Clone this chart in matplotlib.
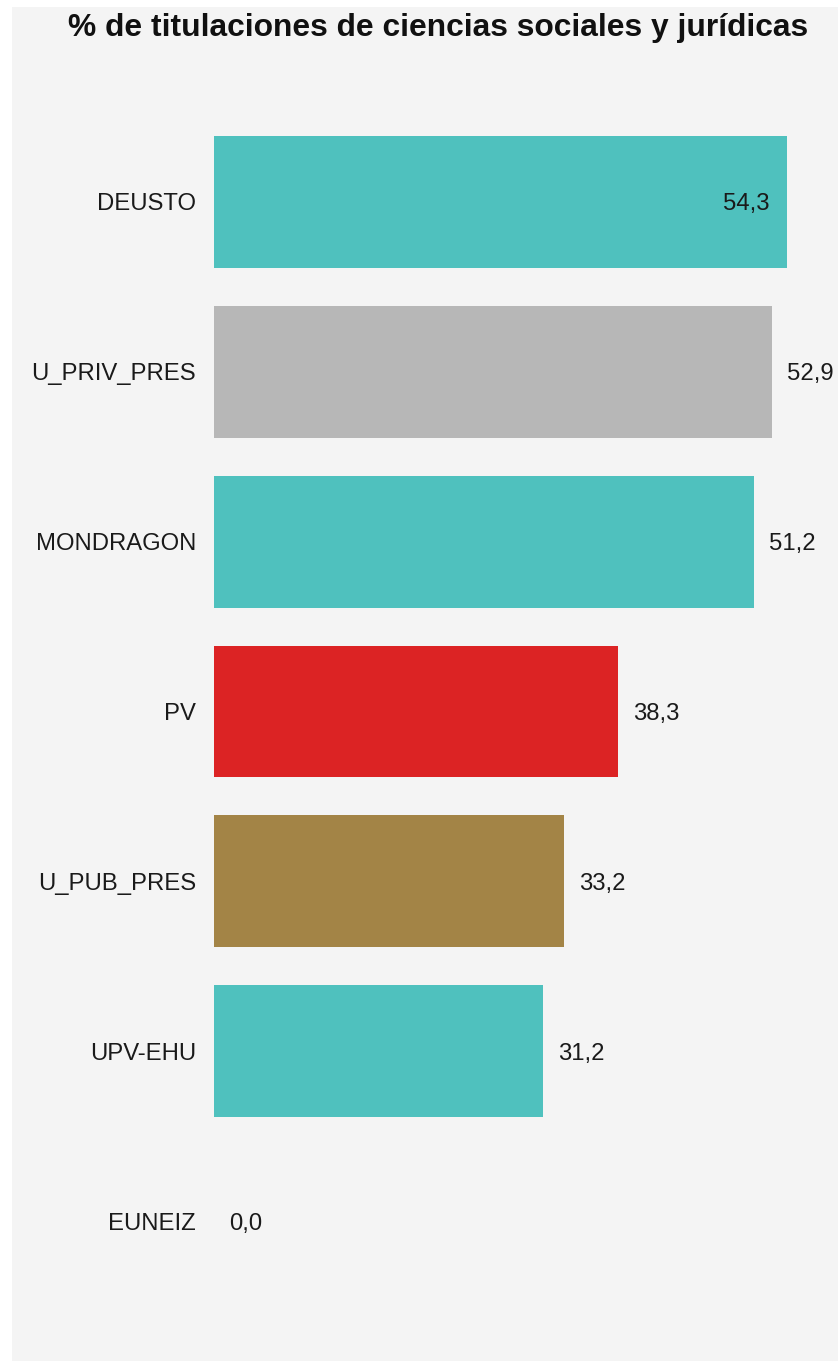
import matplotlib.pyplot as plt
from matplotlib.patches import Rectangle

plt.rcParams['font.family'] = ['Liberation Sans', 'DejaVu Sans']

universidades = ["DEUSTO", "U_PRIV_PRES", "MONDRAGON", "PV", "U_PUB_PRES", "UPV-EHU", "EUNEIZ"]
porcentajes = [54.3, 52.9, 51.2, 38.3, 33.2, 31.2, 0.0]
colores = ["#4fc1be", "#b7b7b7", "#4fc1be", "#dc2324", "#a38446", "#4fc1be", "#4fc1be"]

W, H = 838, 1361
fig = plt.figure(figsize=(W / 100, H / 100), dpi=100, facecolor="white")
fig.patches.append(Rectangle((12 / W, 0), 1 - 12 / W, 1 - 7 / H, transform=fig.transFigure,
                             facecolor="#f4f4f4", edgecolor="none", zorder=-10))

ax = fig.add_axes([214 / W, 1 - 1306 / H, 1 - 214 / W, (1306 - 117) / H])
ax.set_zorder(5)
ax.set_facecolor("none")
ypos = list(range(len(universidades)))
ax.barh(ypos, porcentajes, height=0.776, color=colores)
ax.set_xlim(0, 59.15)
ax.set_ylim(len(universidades) - 0.5, -0.5)
ax.set_yticks(ypos, universidades)
ax.tick_params(axis="y", length=0, pad=13, labelsize=17.2, labelcolor="#1a1a1a")
ax.set_xticks([])
for s in ax.spines.values():
    s.set_visible(False)

for y, v in zip(ypos, porcentajes):
    txt = f"{v:.1f}".replace(".", ",")
    if v > 54:
        ax.text(v - 1.6, y, txt, ha="right", va="center_baseline", fontsize=17.2, color="#1a1a1a")
    else:
        ax.text(v + 1.45, y, txt, ha="left", va="center_baseline", fontsize=17.2, color="#1a1a1a")

fig.text(438 / W, 1 - 28 / H, "% de titulaciones de ciencias sociales y jurídicas",
         ha="center", va="center", fontsize=22.9, fontweight="bold", color="#111111")

fig.savefig("out.png", dpi=100, facecolor="white")
